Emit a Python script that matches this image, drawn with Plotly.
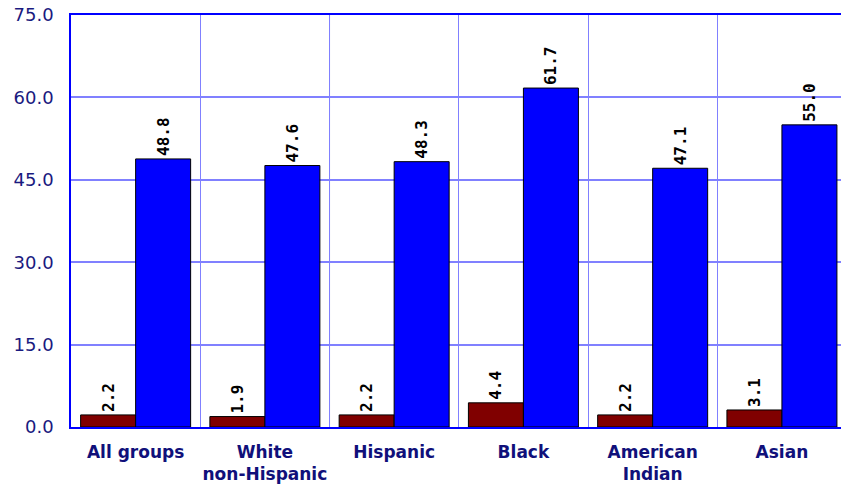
import plotly.graph_objects as go

categories = ["All groups", "White<br>non-Hispanic", "Hispanic", "Black", "American<br>Indian", "Asian"]
series_a = [2.2, 1.9, 2.2, 4.4, 2.2, 3.1]
series_b = [48.8, 47.6, 48.3, 61.7, 47.1, 55.0]
y_ticks = [0, 15, 30, 45, 60, 75]
y_tick_labels = ["0.0", "15.0", "30.0", "45.0", "60.0", "75.0"]

fig = go.Figure()
for vals, color in [(series_a, "#800000"), (series_b, "#0000ff")]:
    fig.add_trace(go.Bar(
        x=categories, y=vals,
        marker=dict(color=color, line=dict(color="#000000", width=1)),
        text=[f"{v:.1f}" for v in vals],
        textposition="outside", textangle=-90,
        textfont=dict(family="DejaVu Sans Mono", size=16, color="#000000", weight="bold"),
        cliponaxis=False,
    ))

fig.update_layout(
    width=841, height=487,
    margin=dict(l=71, r=0, t=15, b=60),
    paper_bgcolor="white", plot_bgcolor="white",
    barmode="group", bargap=0.149, bargroupgap=0,
    showlegend=False,
    xaxis=dict(
        type="category", range=[-0.5, 5.457],
        tickson="boundaries", showgrid=True, gridcolor="#8080ff", gridwidth=1,
        showline=True, linecolor="#0000ff", linewidth=1.5, mirror=True,
        ticks="", ticklabelstandoff=9, tickangle=0, automargin=False,
        tickfont=dict(family="DejaVu Sans", size=17, color="#10107a", weight="bold"),
        fixedrange=True,
    ),
    yaxis=dict(
        range=[0, 75], tickvals=y_ticks, ticktext=y_tick_labels,
        showgrid=True, gridcolor="#8080ff", gridwidth=1.5,
        showline=True, linecolor="#0000ff", linewidth=1.5,
        ticks="", ticklabelstandoff=12, automargin=False,
        tickfont=dict(family="DejaVu Sans", size=18, color="#1a1a80"),
        zeroline=False,
    ),
    shapes=[dict(type="line", xref="x", yref="paper", x0=1.5, x1=1.5, y0=0, y1=1,
                 line=dict(color="#00008b", width=1), layer="below")],
)
fig.write_html("out.html")
